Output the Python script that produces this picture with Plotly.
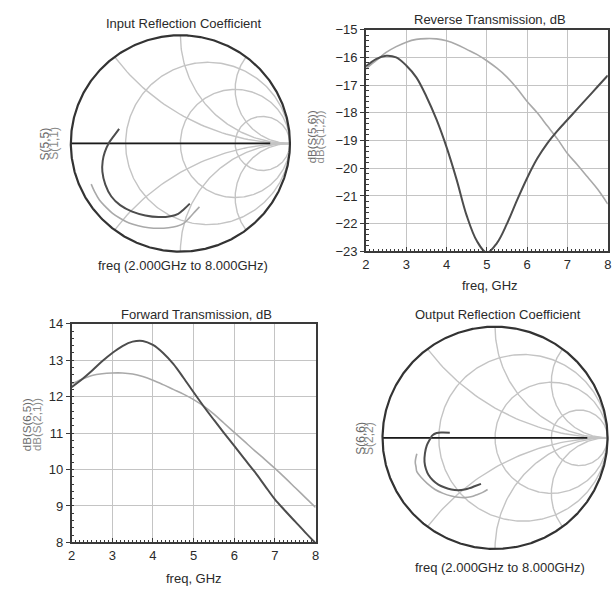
import numpy as np
import plotly.graph_objects as go

W, H = 616, 593
FONT = "Liberation Sans, Arial, sans-serif"
DARK = "#4d4d4d"
LIGHT = "#a9a9a9"
GRID = "#c4c4c4"
TEXT = "#2a2a2a"

# ---------------- data ----------------
freq_ghz = [2.0, 2.25, 2.5, 2.75, 3.0, 3.25, 3.5, 3.75, 4.0, 4.25, 4.5, 4.75,
            5.0, 5.25, 5.5, 5.75, 6.0, 6.25, 6.5, 6.75, 7.0, 7.25, 7.5, 7.75, 8.0]

# Reverse transmission, dB
db_s56 = [-16.32, -16.06, -15.94, -16.0, -16.29, -16.72, -17.41, -18.24, -19.24,
          -20.41, -21.71, -22.62, -23.05, -22.7, -22.0, -21.15, -20.35, -19.65,
          -19.1, -18.65, -18.25, -17.85, -17.45, -17.05, -16.65]
db_s12 = [-16.41, -16.12, -15.82, -15.61, -15.45, -15.35, -15.32, -15.33, -15.4,
          -15.53, -15.71, -15.89, -16.12, -16.39, -16.71, -17.12, -17.59, -18.0,
          -18.47, -18.94, -19.47, -19.88, -20.32, -20.76, -21.29]

# Forward transmission, dB
db_s65 = [12.26, 12.47, 12.71, 12.97, 13.2, 13.39, 13.51, 13.53, 13.42, 13.2,
          12.9, 12.52, 12.12, 11.73, 11.36, 11.0, 10.65, 10.29, 9.94, 9.56, 9.18,
          8.87, 8.57, 8.27, 7.98]
db_s21 = [12.35, 12.48, 12.58, 12.63, 12.65, 12.65, 12.62, 12.55, 12.45, 12.33,
          12.2, 12.07, 11.92, 11.74, 11.52, 11.27, 11.02, 10.77, 10.52, 10.28, 10.03,
          9.77, 9.5, 9.23, 8.96]

# Input reflection coefficients (real, imaginary), 2 GHz -> 8 GHz
s55_re = [-0.559, -0.610, -0.655, -0.690, -0.709, -0.712, -0.685, -0.630, -0.550,
          -0.440, -0.320, -0.200, -0.090, -0.020, 0.030, 0.086]
s55_im = [0.135, 0.065, 0.0, -0.080, -0.160, -0.260, -0.380, -0.490, -0.570,
          -0.630, -0.665, -0.680, -0.672, -0.650, -0.610, -0.556]
s11_re = [-0.814, -0.781, -0.739, -0.682, -0.619, -0.547, -0.468, -0.385, -0.288,
          -0.198, -0.108, -0.033, 0.030, 0.084, 0.129, 0.174]
s11_im = [-0.376, -0.450, -0.523, -0.586, -0.646, -0.694, -0.736, -0.761, -0.779,
          -0.784, -0.779, -0.766, -0.739, -0.685, -0.635, -0.586]

# Output reflection coefficients (real, imaginary), 2 GHz -> 8 GHz
s66_re = [-0.402, -0.469, -0.519, -0.557, -0.577, -0.607, -0.623, -0.627, -0.614,
          -0.592, -0.553, -0.504, -0.447, -0.388, -0.329, -0.270, -0.224, -0.182, -0.125]
s66_im = [0.046, 0.048, 0.044, 0.022, -0.011, -0.070, -0.140, -0.217, -0.281,
          -0.333, -0.382, -0.421, -0.447, -0.465, -0.471, -0.465, -0.452, -0.436, -0.415]
s22_re = [-0.695, -0.709, -0.702, -0.695, -0.651, -0.601, -0.533, -0.461, -0.388,
          -0.329, -0.270, -0.215, -0.154, -0.110, -0.066]
s22_im = [-0.143, -0.217, -0.263, -0.304, -0.362, -0.412, -0.465, -0.500, -0.524,
          -0.535, -0.538, -0.531, -0.509, -0.491, -0.465]

# Smith chart grid: constant-resistance circles and constant-reactance arcs
resistance_grid = [1 / 3, 1, 3]
reactance_grid = [0.5, 1, 2]


def fx(px):
    return px / W


def fy(py):
    return 1 - py / H


def smith_grid_paths():
    """Return (x, y) polylines of the Smith grid in reflection-coefficient space."""
    paths = []
    t = np.linspace(0, 2 * np.pi, 361)
    for r in resistance_grid:
        c, rad = r / (1 + r), 1 / (1 + r)
        paths.append((c + rad * np.cos(t), rad * np.sin(t)))
    for x in reactance_grid:
        for s in (1, -1):
            cy, rad = s / x, 1 / x
            px_ = 1 + rad * np.cos(t)
            py_ = cy + rad * np.sin(t)
            inside = px_ ** 2 + py_ ** 2 <= 1.0005
            xs = np.where(inside, px_, np.nan)
            ys = np.where(inside, py_, np.nan)
            # rotate so the arc is one contiguous run
            k = int(np.argmax(~inside)) if (~inside).any() else 0
            paths.append((np.roll(xs, -k), np.roll(ys, -k)))
    return paths


fig = go.Figure()

PAD = 1.03
smiths = [
    # axis suffix, centre x, centre y, radius (px), traces
    ("3", 178.7, 140.0, 111.0, [(s11_re, s11_im, LIGHT, 1.6), (s55_re, s55_im, DARK, 2.0)]),
    ("4", 497.5, 442.0, 114.0, [(s22_re, s22_im, LIGHT, 1.6), (s66_re, s66_im, DARK, 2.0)]),
]

t_full = np.linspace(0, 2 * np.pi, 721)
for sfx, cx, cy, R, traces in smiths:
    xa, ya = "x" + sfx, "y" + sfx
    for gx, gy in smith_grid_paths():
        fig.add_trace(go.Scatter(x=gx, y=gy, mode="lines", xaxis=xa, yaxis=ya,
                                 line=dict(color=GRID, width=1.4), hoverinfo="skip",
                                 showlegend=False))
    # real axis: grey towards the open-circuit point, black elsewhere
    fig.add_trace(go.Scatter(x=[-1, 1], y=[0, 0], mode="lines", xaxis=xa, yaxis=ya,
                             line=dict(color=GRID, width=1.4), hoverinfo="skip", showlegend=False))
    fig.add_trace(go.Scatter(x=[-1, 0.82], y=[0, 0], mode="lines", xaxis=xa, yaxis=ya,
                             line=dict(color="#1a1a1a", width=1.7), hoverinfo="skip",
                             showlegend=False))
    # unit circle
    fig.add_trace(go.Scatter(x=np.cos(t_full), y=np.sin(t_full), mode="lines",
                             xaxis=xa, yaxis=ya, line=dict(color="#333333", width=2.2),
                             hoverinfo="skip", showlegend=False))
    for re_l, im_l, col, wid in traces:
        fig.add_trace(go.Scatter(x=re_l, y=im_l, mode="lines", xaxis=xa, yaxis=ya,
                                 line=dict(color=col, width=wid, shape="spline"),
                                 showlegend=False))

# Rectangular traces
fig.add_trace(go.Scatter(x=freq_ghz, y=db_s12, mode="lines", xaxis="x", yaxis="y",
                         line=dict(color=LIGHT, width=1.6, shape="spline"), showlegend=False))
fig.add_trace(go.Scatter(x=freq_ghz, y=db_s56, mode="lines", xaxis="x", yaxis="y",
                         line=dict(color=DARK, width=2.0, shape="spline"), showlegend=False))
fig.add_trace(go.Scatter(x=freq_ghz, y=db_s21, mode="lines", xaxis="x2", yaxis="y2",
                         line=dict(color=LIGHT, width=1.6, shape="spline"), showlegend=False))
fig.add_trace(go.Scatter(x=freq_ghz, y=db_s65, mode="lines", xaxis="x2", yaxis="y2",
                         line=dict(color=DARK, width=2.0, shape="spline"), showlegend=False))

tick_font = dict(family=FONT, size=13, color=TEXT)


def xaxis_style(domain, anchor):
    return dict(domain=domain, anchor=anchor, range=[2, 8], tickvals=[2, 3, 4, 5, 6, 7, 8],
                showgrid=True, gridcolor=GRID, gridwidth=1.2, zeroline=False,
                showline=True, mirror=True, linecolor="#3a3a3a", linewidth=1.5,
                ticks="inside", ticklen=5, tickcolor="#3a3a3a", tickfont=tick_font,
                minor=dict(dtick=0.1, ticks="inside", ticklen=3, tickcolor="#3a3a3a",
                           showgrid=False))


def yaxis_style(domain, anchor, rng, vals):
    return dict(domain=domain, anchor=anchor, range=rng, tickvals=vals,
                showgrid=True, gridcolor=GRID, gridwidth=1.2, zeroline=False,
                showline=True, mirror=True, linecolor="#3a3a3a", linewidth=1.5,
                ticks="outside", ticklen=4, tickcolor="#3a3a3a", tickfont=tick_font,
                minor=dict(dtick=0.2, ticks="inside", ticklen=3, tickcolor="#3a3a3a",
                           showgrid=False))


def smith_axis(lo, hi, anchor):
    return dict(domain=[lo, hi], anchor=anchor, range=[-PAD, PAD], visible=False,
                showgrid=False, zeroline=False, fixedrange=True)


layout_axes = {}
for sfx, cx, cy, R, _ in smiths:
    layout_axes["xaxis" + sfx] = smith_axis(fx(cx - R * PAD), fx(cx + R * PAD), "y" + sfx)
    layout_axes["yaxis" + sfx] = smith_axis(fy(cy + R * PAD), fy(cy - R * PAD), "x" + sfx)

fig.update_layout(
    width=W, height=H, autosize=False,
    margin=dict(l=0, r=0, t=0, b=0),
    paper_bgcolor="white", plot_bgcolor="white",
    font=dict(family=FONT, size=13, color=TEXT),
    xaxis=xaxis_style([fx(366.7), fx(611.7)], "y"),
    yaxis=yaxis_style([fy(250.7), fy(23.3)], "x", [-23, -15], list(range(-23, -14))),
    xaxis2=xaxis_style([fx(68.5), fx(315.7)], "y2"),
    yaxis2=yaxis_style([fy(549.3), fy(325)], "x2", [8, 14], list(range(8, 15))),
    **layout_axes,
)

labels = [
    ("Input Reflection Coefficient", 182.5, 17, 0, TEXT, 13),
    ("Reverse Transmission, dB", 492.5, 13, 0, TEXT, 13),
    ("Forward Transmission, dB", 195.5, 315, 0, TEXT, 13),
    ("Output Reflection Coefficient", 500.5, 315, 0, TEXT, 13),
    ("freq (2.000GHz to 8.000GHz)", 181.7, 265, 0, TEXT, 13),
    ("freq (2.000GHz to 8.000GHz)", 502.3, 575, 0, TEXT, 13),
    ("freq, GHz", 492.5, 286, 0, TEXT, 13),
    ("freq, GHz", 193, 586, 0, TEXT, 13),
    ("S(5,5)", 42.5, 140, -90, "#6a6a6a", 12),
    ("S(1,1)", 51, 140, -90, "#8a8a8a", 12),
    ("dB(S(5,6))", 311.7, 133, -90, "#6a6a6a", 11.5),
    ("dB(S(1,2))", 320, 133, -90, "#8a8a8a", 11.5),
    ("dB(S(6,5))", 23.3, 428, -90, "#6a6a6a", 11.5),
    ("dB(S(2,1))", 33.3, 428, -90, "#8a8a8a", 11.5),
    ("S(6,6)", 361.7, 443, -90, "#6a6a6a", 12),
    ("S(2,2)", 370, 443, -90, "#8a8a8a", 12),
]
for text, x, y, ang, col, size in labels:
    fig.add_annotation(text=text, x=fx(x), y=fy(y), xref="paper", yref="paper",
                       xanchor="center", yanchor="middle", showarrow=False,
                       textangle=ang, font=dict(family=FONT, size=size, color=col))

fig.write_html("out.html")
